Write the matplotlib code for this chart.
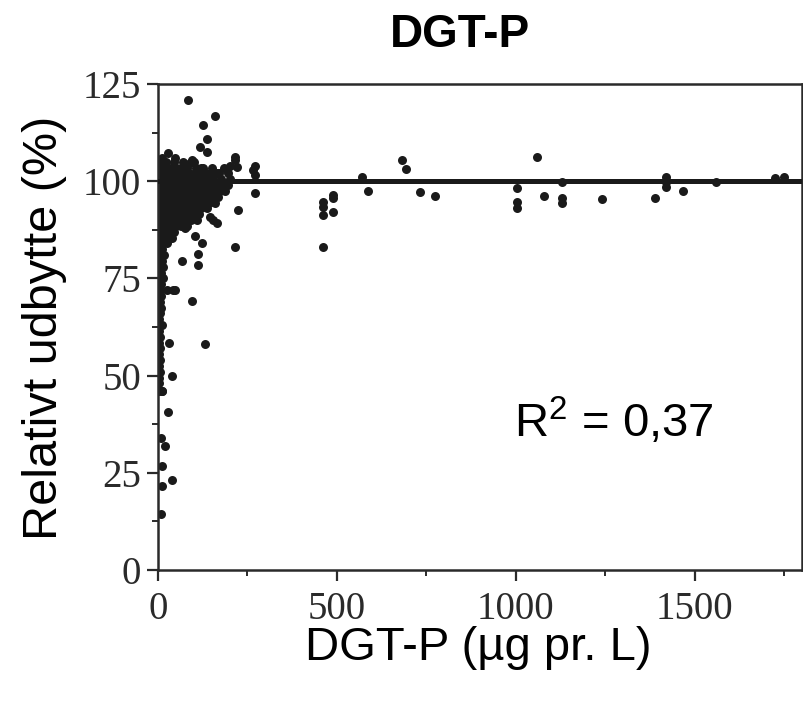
import matplotlib
matplotlib.use("Agg")
import matplotlib.pyplot as plt
from matplotlib.ticker import MultipleLocator

plt.rcParams['font.family'] = ['Liberation Sans', 'DejaVu Sans']
plt.rcParams['mathtext.fontset'] = 'custom'
plt.rcParams['mathtext.rm'] = 'Liberation Sans'
plt.rcParams['mathtext.default'] = 'regular'

# --- data: (DGT-P in ug/L, relativt udbytte in %) ---
# dense cloud at low DGT-P
klynge = [
    (10, 105), (22, 105), (45, 105), (70, 105), (100, 105),
    (3, 103.5), (15, 103.5), (30, 103.5), (50, 103.5), (65, 103.5), (80, 103.5),
    (105, 103.5), (120, 103.5), (150, 103.5), (185, 103.5),
    (2, 102), (14, 102), (28, 102), (42, 102), (56, 102), (72, 102), (88, 102),
    (104, 102), (118, 102), (134, 102), (150, 102), (170, 102), (195, 102),
    (6, 100.5), (20, 100.5), (34, 100.5), (48, 100.5), (62, 100.5), (76, 100.5),
    (92, 100.5), (108, 100.5), (122, 100.5), (138, 100.5), (155, 100.5),
    (175, 100.5), (200, 100.5),
    (2, 99), (15, 99), (29, 99), (43, 99), (57, 99), (71, 99), (86, 99), (100, 99),
    (115, 99), (130, 99), (146, 99), (162, 99), (180, 99), (196, 99),
    (8, 97.5), (22, 97.5), (36, 97.5), (50, 97.5), (64, 97.5), (78, 97.5),
    (93, 97.5), (108, 97.5), (124, 97.5), (140, 97.5), (156, 97.5), (172, 97.5),
    (188, 97.5),
    (3, 96), (16, 96), (30, 96), (44, 96), (58, 96), (72, 96), (87, 96), (102, 96),
    (118, 96), (133, 96), (150, 96), (168, 96),
    (9, 94.5), (23, 94.5), (37, 94.5), (51, 94.5), (65, 94.5), (80, 94.5),
    (95, 94.5), (110, 94.5), (126, 94.5), (142, 94.5), (160, 94.5),
    (4, 93), (17, 93), (31, 93), (45, 93), (59, 93), (74, 93), (89, 93), (104, 93),
    (120, 93), (136, 93),
    (10, 91.5), (24, 91.5), (38, 91.5), (52, 91.5), (67, 91.5), (82, 91.5),
    (98, 91.5), (115, 91.5),
    (3, 90), (17, 90), (31, 90), (45, 90), (60, 90), (76, 90), (92, 90), (108, 90),
    (8, 88.5), (22, 88.5), (36, 88.5), (50, 88.5), (65, 88.5), (80, 88.5),
    (4, 87), (18, 87), (32, 87), (46, 87),
    (2, 85.5), (14, 85.5), (28, 85.5), (40, 85.5),
]

# narrow column of points close to zero
soejle = [
    (4, 84), (14, 84), (26, 84), (3, 82.5), (12, 82.5), (6, 81), (17, 81),
    (2, 79.5), (10, 79.5), (5, 78), (14, 78), (3, 76.5), (9, 76.5), (6, 75),
    (13, 75), (2, 73.5), (9, 73.5), (5, 72), (3, 70.5), (8, 70.5), (6, 69),
    (2, 67.5), (9, 67.5), (5, 66), (3, 64.5), (6, 63), (12, 63), (2, 61.5),
    (5, 60), (3, 58.5), (6, 57), (2, 55.5), (5, 54), (3, 52.5), (6, 51),
    (2, 49.5), (4, 48), (3, 46), (11, 46),
]

# scattered points around the cloud
spredte = [
    (84, 121), (159, 116.8), (126, 114.4), (136, 110.8), (117, 108.8),
    (136, 107.5), (28, 107.2), (47, 105.9), (12, 106), (95, 105.4), (89, 104.6),
    (214, 106.2), (214, 105.4), (200, 104), (220, 103.6), (270, 104),
    (265, 102.8), (270, 101.5), (164, 102), (125, 103.4), (270, 96.9),
    (223, 92.5), (214, 83), (164, 89.2), (153, 90), (145, 90.7), (75, 88),
    (103, 86), (122, 84), (111, 81.4), (111, 78.4), (67, 79.6), (95, 69.3),
    (42, 72), (25, 72), (47, 72), (131, 58), (31, 58.5), (39, 50), (28, 40.7),
    (8, 34), (20, 32), (11, 26.8), (39, 23.2), (11, 21.6), (8, 14.4), (11, 46),
]

# points at high DGT-P
hoeje = [
    (460, 94.6), (460, 93.3), (460, 91.2), (490, 96.4), (490, 95.6), (490, 92),
    (460, 83), (571, 101), (588, 97.4), (682, 105.4), (694, 103.1), (733, 97.2),
    (774, 96.1), (1003, 98.2), (1003, 94.6), (1003, 93), (1058, 106.2),
    (1078, 96.1), (1128, 99.7), (1128, 95.6), (1128, 94.3), (1240, 95.4),
    (1390, 95.6), (1421, 101), (1421, 99.7), (1421, 98.5), (1468, 97.4),
    (1560, 99.7), (1724, 100.8), (1749, 101),
]

plateau = 100
r2_text = 'R$^2$ = 0,37'

punkter = klynge + soejle + spredte + hoeje
dgt_p = [p[0] for p in punkter]
udbytte = [p[1] for p in punkter]

fig = plt.figure(figsize=(8.04, 7.01), dpi=100)
ax = fig.add_axes([158 / 804, 1 - 570 / 701, (802 - 158) / 804, (570 - 84) / 701])

ax.scatter(dgt_p, udbytte, s=42, color='#1a1a1a', linewidths=0, zorder=2)
ax.axhline(plateau, color='#1a1a1a', lw=3.6, zorder=3)

ax.set_xlim(0, 1800)
ax.set_ylim(0, 125)
ax.xaxis.set_major_locator(MultipleLocator(500))
ax.xaxis.set_minor_locator(MultipleLocator(250))
ax.yaxis.set_major_locator(MultipleLocator(25))
ax.yaxis.set_minor_locator(MultipleLocator(12.5))

for s in ax.spines.values():
    s.set_linewidth(1.8)
    s.set_color('#2a2a2a')
ax.tick_params(which='major', direction='out', length=8, width=1.6, labelsize=28,
               colors='#2a2a2a')
ax.tick_params(which='minor', direction='out', length=4, width=1.4, colors='#2a2a2a')
ax.tick_params(axis='x', pad=7)
ax.tick_params(axis='y', pad=4)
for lab in ax.get_xticklabels() + ax.get_yticklabels():
    lab.set_fontfamily('Liberation Serif')

ax.text(0.553, 0.305, r2_text, transform=ax.transAxes, fontsize=34,
        ha='left', va='center', color='black')

fig.text(460 / 804, 1 - 35 / 701, 'DGT-P', fontsize=33, fontweight='bold',
         ha='center', va='center')
fig.text(45 / 804, 1 - 328 / 701, 'Relativt udbytte (%)', fontsize=35,
         rotation=90, ha='center', va='center')
fig.text(478 / 804, 1 - 660 / 701, 'DGT-P (µg pr. L)', fontsize=34,
         ha='center', va='baseline')

fig.savefig('out.png', dpi=100)
